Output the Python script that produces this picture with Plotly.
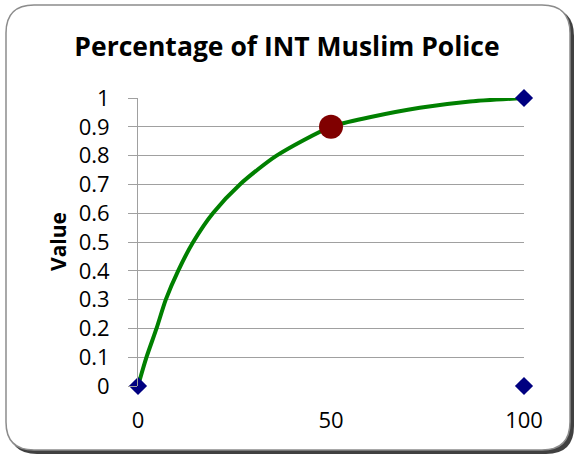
import plotly.graph_objects as go

# Data (curve values)
curve_x = [0, 2.2, 4.8, 7.2, 10.4, 14.3, 19.4, 26.4, 35.9, 50, 60, 73, 86, 100]
curve_y = [0, 0.1, 0.2, 0.3, 0.4, 0.5, 0.6, 0.7, 0.8, 0.9, 0.933, 0.966, 0.988, 1]
point_x = [50]
point_y = [0.9]
corner_x = [0, 100, 100]
corner_y = [0, 1, 0]
y_ticks = [0, 0.1, 0.2, 0.3, 0.4, 0.5, 0.6, 0.7, 0.8, 0.9, 1]
y_tick_text = ["0", "0.1", "0.2", "0.3", "0.4", "0.5", "0.6", "0.7", "0.8", "0.9", "1"]
x_ticks = [0, 50, 100]
x_tick_text = ["0", "50", "100"]

W, H = 576, 455
L, R, T, B = 138, 524, 98, 386  # plot area pixels

def px2paper(px, py):
    return (px - L) / (R - L), (B - py) / (B - T)

def rounded_rect(x0, y0, x1, y1, r):
    def p(x, y):
        a, b = px2paper(x, y)
        return f"{a:.5f},{b:.5f}"
    path = f"M {p(x0 + r, y0)} L {p(x1 - r, y0)} Q {p(x1, y0)} {p(x1, y0 + r)} "
    path += f"L {p(x1, y1 - r)} Q {p(x1, y1)} {p(x1 - r, y1)} "
    path += f"L {p(x0 + r, y1)} Q {p(x0, y1)} {p(x0, y1 - r)} "
    path += f"L {p(x0, y0 + r)} Q {p(x0, y0)} {p(x0 + r, y0)} Z"
    return path

font_family = "Open Sans, Noto Sans, sans-serif"

fig = go.Figure()
fig.add_trace(go.Scatter(
    x=curve_x, y=curve_y, mode="lines",
    line=dict(color="#008000", width=4, shape="spline", smoothing=0.7),
    hoverinfo="skip", showlegend=False, cliponaxis=False))
fig.add_trace(go.Scatter(
    x=corner_x, y=corner_y, mode="markers",
    marker=dict(symbol="diamond", color="#000080", size=14),
    showlegend=False, cliponaxis=False))
fig.add_trace(go.Scatter(
    x=point_x, y=point_y, mode="markers",
    marker=dict(symbol="circle", color="#800000", size=24),
    showlegend=False, cliponaxis=False))

shapes = [
    dict(type="path", xref="paper", yref="paper", layer="below",
         path=rounded_rect(9, 8, 574, 454, 28),
         fillcolor="#404040", line=dict(width=0)),
    dict(type="path", xref="paper", yref="paper", layer="below",
         path=rounded_rect(6, 5, 570, 450, 28),
         fillcolor="white", line=dict(color="#8c8c8c", width=1.5)),
]

fig.update_layout(
    width=W, height=H,
    margin=dict(l=L, r=W - R, t=T, b=H - B, pad=0),
    paper_bgcolor="white", plot_bgcolor="white",
    shapes=shapes,
    title=dict(text="<b>Percentage of INT Muslim Police</b>",
               font=dict(family=font_family, size=26.5, color="black"),
               xref="container", x=287 / W, xanchor="center",
               yref="container", y=1 - 47 / H, yanchor="middle"),
    xaxis=dict(range=[0, 100], tickvals=x_ticks, ticktext=x_tick_text,
               showgrid=False, zeroline=False, showline=False, ticks="",
               tickfont=dict(family=font_family, size=22, color="black"),
               ticklabelstandoff=19, fixedrange=True),
    yaxis=dict(range=[0, 1], tickvals=y_ticks, ticktext=y_tick_text,
               showgrid=True, gridcolor="#a0a0a0", gridwidth=1,
               zeroline=False, showline=True, linecolor="#a0a0a0", linewidth=1,
               ticks="outside", ticklen=9, tickcolor="#a0a0a0",
               tickfont=dict(family=font_family, size=22, color="black"),
               ticklabelstandoff=14, fixedrange=True),
    annotations=[dict(text="<b>Value</b>", xref="paper", yref="paper",
                      x=px2paper(58, 242)[0], y=px2paper(58, 242)[1],
                      xanchor="center", yanchor="middle", textangle=-90,
                      showarrow=False,
                      font=dict(family=font_family, size=21, color="black"))],
)

fig.write_html("out.html", config={"displayModeBar": False},
               post_script="document.body.style.margin='0px';")
